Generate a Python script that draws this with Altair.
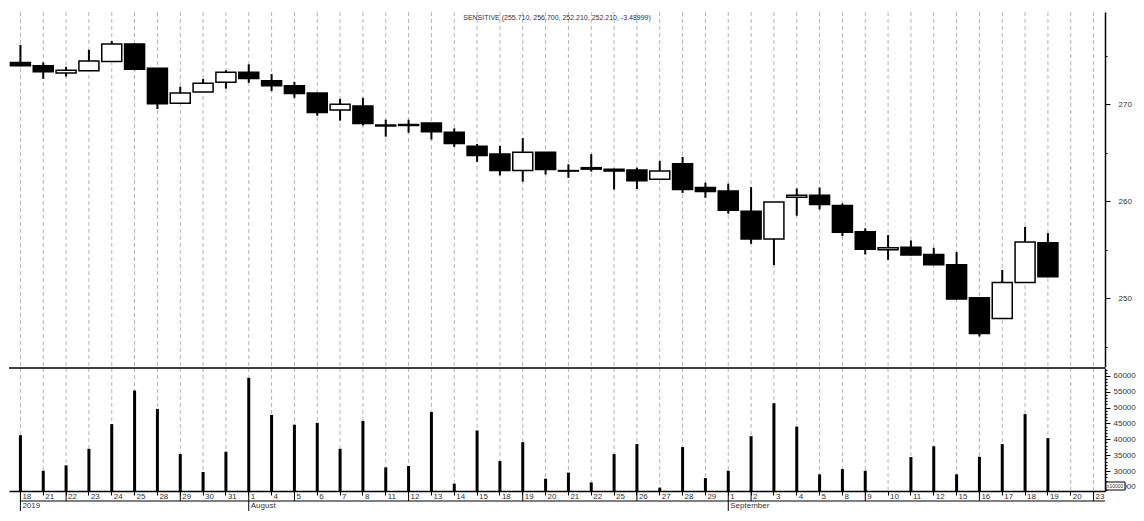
import altair as alt
import pandas as pd

# ---------------- data ----------------
months = ["Jul"] * 10 + ["Aug"] * 21 + ["Sep"] * 17
days = ["18", "21", "22", "23", "24", "25", "28", "29", "30", "31",
        "1", "4", "5", "6", "7", "8", "11", "12", "13", "14", "15", "18", "19", "20", "21",
        "22", "25", "26", "27", "28", "29",
        "1", "2", "3", "4", "5", "8", "9", "10", "11", "12", "15", "16", "17", "18", "19",
        "20", "23"]

opens = [274.3, 273.95, 273.2, 273.45, 274.4, 276.2, 273.7, 270.1, 271.25, 272.25,
         273.3, 272.4, 271.9, 271.15, 269.4, 269.8, 267.85, 267.9, 268.05, 267.1, 265.65,
         264.85, 263.15, 265.05, 263.15, 263.45, 263.3, 263.2, 262.25, 263.85, 261.4,
         261.05, 258.95, 256.1, 260.4, 260.6, 259.55, 256.85, 255.0, 255.25, 254.5,
         253.45, 250.05, 247.9, 251.6, 255.71, None, None]
highs = [276.1, 274.3, 273.85, 275.6, 276.5, 276.25, 273.7, 271.8, 272.6, 273.5,
         274.1, 273.1, 272.3, 271.15, 270.55, 270.65, 268.4, 268.4, 268.05, 267.5, 265.9,
         265.7, 266.5, 265.05, 263.8, 264.85, 263.35, 263.45, 264.15, 264.55, 261.9,
         261.8, 261.45, 259.9, 261.3, 261.4, 259.75, 257.2, 256.5, 255.95, 255.2,
         254.75, 250.05, 252.9, 257.35, 256.7, None, None]
lows = [273.9, 272.6, 272.85, 273.45, 274.4, 273.5, 269.5, 270.1, 271.25, 271.6,
        272.2, 271.35, 270.65, 268.8, 268.3, 267.8, 266.65, 267.05, 266.35, 265.6, 264.05,
        262.65, 262.0, 262.75, 262.4, 263.05, 261.2, 261.25, 262.25, 260.85, 260.35,
        258.7, 255.6, 253.4, 258.5, 259.15, 256.4, 254.5, 253.95, 254.4, 253.4,
        249.85, 246.05, 247.9, 251.6, 252.21, None, None]
closes = [273.95, 273.35, 273.5, 274.45, 276.2, 273.6, 270.05, 271.15, 272.15, 273.3,
          272.65, 271.9, 271.1, 269.15, 270.0, 268.0, 267.75, 267.8, 267.15, 265.95, 264.7,
          263.15, 265.05, 263.25, 263.1, 263.3, 263.1, 262.1, 263.1, 261.2, 261.0,
          259.05, 256.1, 259.9, 260.6, 259.65, 256.8, 255.05, 255.2, 254.45, 253.45,
          249.9, 246.35, 251.6, 255.8, 252.21, None, None]
volumes = [41300, 30100, 31800, 37000, 44800, 55400, 49600, 35350, 29700, 36100,
           59400, 47700, 44600, 45200, 37000, 45800, 31150, 31600, 48600, 26000, 42800,
           33150, 39100, 27600, 29500, 26400, 35350, 38500, 24750, 37550, 27800,
           30100, 41000, 51400, 44000, 28950, 30600, 30100, None, 34400, 37800,
           28950, 34500, 38500, 47950, 40400, None, None]

week_starts = ["Jul-22", "Jul-29", "Aug-5", "Aug-12", "Aug-19", "Aug-26",
               "Sep-2", "Sep-9", "Sep-16", "Sep-23"]
month_starts = ["Jul-18", "Aug-1", "Sep-1"]
month_labels = ["2019", "August", "September"]

title_text = "SENSITIVE (255.710, 256.700, 252.210, 252.210, -3.48999)"

PRICE_DOMAIN = [242.9, 279.5]
VOL_DOMAIN = [23700, 62500]

keys = [f"{m}-{d}" for m, d in zip(months, days)]
df = pd.DataFrame({"key": keys, "open": opens, "high": highs, "low": lows,
                   "close": closes, "volume": volumes})
df["dir"] = ["up" if (o is not None and c is not None and c > o) else "down"
             for o, c in zip(opens, closes)]

W = 1096
H_PRICE = 355
H_VOL = 123
FONT = "Liberation Sans"
TXT = "#333333"

xs = alt.Scale(domain=keys, paddingInner=0, paddingOuter=0)
X = alt.X("key:N", scale=xs, axis=None, sort=keys)

grid = alt.Chart(df).mark_rule(strokeDash=[4, 3], color="#b4b4b4", strokeWidth=1).encode(x=X)

price_axis = alt.Axis(
    orient="right", title=None, grid=False,
    values=[245, 250, 255, 260, 265, 270, 275], format="d",
    labelExpr="datum.value % 10 === 0 ? datum.label : ''",
    tickSize={"condition": {"test": "datum.value % 10 === 0", "value": 5}, "value": 2},
    tickColor="black", domainColor="black", domainWidth=1.5,
    labelFont=FONT, labelFontSize=8, labelColor=TXT, labelPadding=8,
)
py = alt.Scale(domain=PRICE_DOMAIN, nice=False, zero=False)

wicks = alt.Chart(df).mark_rule(color="black", strokeWidth=2).encode(
    x=X, y=alt.Y("low:Q", scale=py, axis=price_axis), y2="high:Q")
bodies = alt.Chart(df).mark_bar(size=20, stroke="black", strokeWidth=1.5).encode(
    x=X, y=alt.Y("open:Q", scale=py), y2="close:Q",
    fill=alt.Fill("dir:N", scale=alt.Scale(domain=["up", "down"], range=["white", "black"]), legend=None))
title = alt.Chart(pd.DataFrame({"t": [title_text]})).mark_text(
    font=FONT, fontSize=7, color=TXT, align="center", baseline="middle").encode(
    text="t:N", x=alt.value(W / 2), y=alt.value(6))

price = alt.layer(grid, wicks, bodies, title).properties(width=W, height=H_PRICE)

vol_axis = alt.Axis(
    orient="right", title=None, grid=False,
    values=list(range(24000, 62001, 1000)), format="d",
    labelExpr="datum.value % 5000 === 0 ? datum.label : ''",
    tickSize={"condition": {"test": "datum.value % 5000 === 0", "value": 5}, "value": 2},
    tickColor="black", domainColor="black", domainWidth=1.5,
    labelFont=FONT, labelFontSize=8, labelColor=TXT, labelPadding=3,
)
vy = alt.Scale(domain=VOL_DOMAIN, nice=False, zero=False)
x_axis = alt.Axis(
    orient="bottom", title=None, labelAngle=0, labelAlign="left", labelBaseline="top",
    labelOffset=2, labelPadding=-3, tickSize=4, tickColor="black",
    domainColor="black", domainWidth=1.5, labelOverlap=False,
    labelExpr="split(datum.value, '-')[1]",
    labelFont=FONT, labelFontSize=8, labelColor=TXT, grid=False,
)
Xv = alt.X("key:N", scale=xs, axis=x_axis, sort=keys)

vgrid = alt.Chart(df).mark_rule(strokeDash=[4, 3], color="#b4b4b4", strokeWidth=1).encode(x=Xv)
vbars = alt.Chart(df).mark_bar(size=3, color="black").encode(
    x=Xv, y=alt.Y("volume:Q", scale=vy, axis=vol_axis), y2=alt.datum(VOL_DOMAIN[0]))
top_line = alt.Chart(pd.DataFrame({"a": [0]})).mark_rule(color="black", strokeWidth=1.5).encode(
    y=alt.value(0))
wk = alt.Chart(pd.DataFrame({"key": week_starts})).mark_rule(color="black", strokeWidth=1).encode(
    x=alt.X("key:N", scale=xs, sort=keys), y=alt.value(H_VOL), y2=alt.value(H_VOL + 10))
hline = alt.Chart(pd.DataFrame({"key": [keys[0]]})).mark_rule(color="black", strokeWidth=1).encode(
    x=alt.X("key:N", scale=xs, sort=keys), x2=alt.value(W), y=alt.value(H_VOL + 10))
mdf = pd.DataFrame({"key": month_starts, "label": month_labels})
mticks = alt.Chart(mdf).mark_rule(color="black", strokeWidth=1).encode(
    x=alt.X("key:N", scale=xs, sort=keys), y=alt.value(H_VOL), y2=alt.value(H_VOL + 20))
mtext = alt.Chart(mdf).mark_text(font=FONT, fontSize=8, color=TXT, align="left",
                                 baseline="middle", dx=2).encode(
    x=alt.X("key:N", scale=xs, sort=keys), y=alt.value(H_VOL + 15), text="label:N")
box = alt.Chart(pd.DataFrame({"a": [0]})).mark_rect(fill="white", stroke="black", strokeWidth=1).encode(
    x=alt.value(W + 1), x2=alt.value(W + 20), y=alt.value(H_VOL - 9), y2=alt.value(H_VOL - 1))
box_t = alt.Chart(pd.DataFrame({"t": ["x10000"]})).mark_text(
    font=FONT, fontSize=5, color=TXT, align="left", baseline="middle").encode(
    x=alt.value(W + 2), y=alt.value(H_VOL - 5), text="t:N")

volume = alt.layer(vgrid, vbars, top_line, wk, hline, mticks, mtext, box, box_t).properties(
    width=W, height=H_VOL)

chart = alt.vconcat(price, volume, spacing=-3).properties(
    padding={"left": 0, "top": 3, "right": 0, "bottom": 0}
).configure_view(stroke=None)

chart.save("out.html", embed_options={"renderer": "svg", "actions": False})
